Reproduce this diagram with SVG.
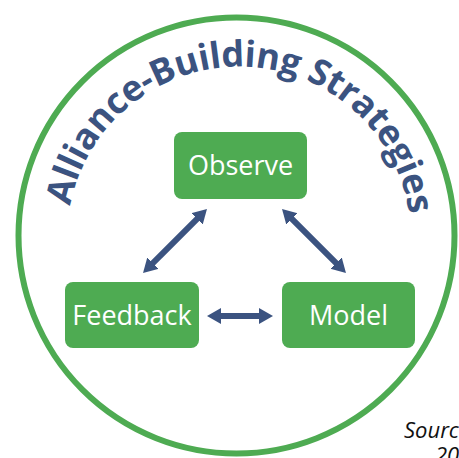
<svg xmlns="http://www.w3.org/2000/svg" width="459" height="458" viewBox="0 0 459 458">
<style>
.box{fill:#4EAB52;}
.lbl{font-family:"Open Sans","Liberation Sans",sans-serif;font-size:27px;fill:#ffffff;text-anchor:middle;}
.title{font-family:"Open Sans","Liberation Sans",sans-serif;font-size:36px;font-weight:700;fill:#3B5380;}
.src{font-family:"Open Sans","Liberation Sans",sans-serif;font-size:22px;font-style:italic;fill:#111111;}
.conn{stroke:#3B5380;stroke-width:6;fill:none;marker-start:url(#ah);marker-end:url(#ah);}
</style>
<defs>
<marker id="ah" markerUnits="userSpaceOnUse" markerWidth="16" markerHeight="18" refX="4" refY="8" orient="auto-start-reverse">
<path d="M0,0 L14,8 L0,16 z" fill="#3B5380"/>
</marker>
<path id="arc" d="M 77.4 297.5 A 172 172 0 1 1 400.6 297.5"/>
</defs>
<rect width="459" height="458" fill="#ffffff"/>
<circle cx="236.5" cy="235.5" r="218" fill="none" stroke="#4EAB52" stroke-width="6"/>
<text class="title"><textPath href="#arc" startOffset="334.4" text-anchor="middle" textLength="483" lengthAdjust="spacing">Alliance-Building Strategies</textPath></text>
<g id="connectors">
<line class="conn" x1="199.9" y1="216.1" x2="150.1" y2="265.9"/>
<line class="conn" x1="289.1" y1="216.1" x2="338.9" y2="265.9"/>
<line class="conn" x1="217" y1="316" x2="263" y2="316"/>
</g>
<g id="observe">
<rect class="box" x="174" y="132" width="133" height="67" rx="8"/>
<text class="lbl" x="240.5" y="174.5">Observe</text>
</g>
<g id="feedback">
<rect class="box" x="65" y="282" width="134" height="66" rx="8"/>
<text class="lbl" x="132" y="325">Feedback</text>
</g>
<g id="model">
<rect class="box" x="282" y="282" width="133" height="66" rx="8"/>
<text class="lbl" x="348.5" y="325">Model</text>
</g>
<text class="src" x="404" y="438">Sourc</text>
<text class="src" x="435" y="463">20</text>
</svg>
